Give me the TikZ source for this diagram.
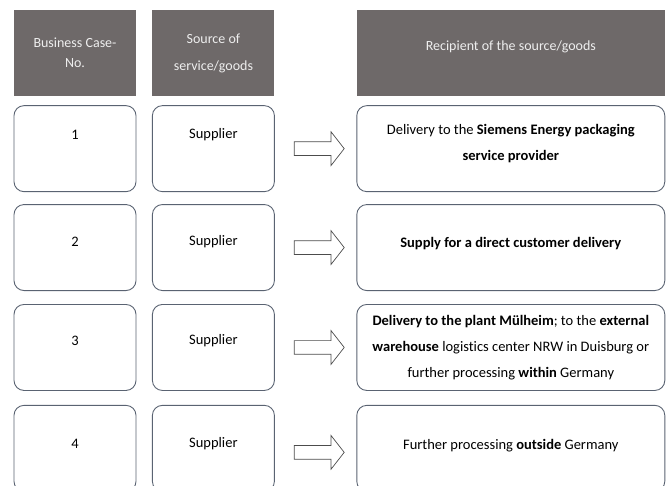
\documentclass[tikz,border=0pt]{standalone}
\usepackage{fontspec}
\setmainfont{Carlito}[Ligatures=NoCommon]
\usepackage{xcolor}
\usetikzlibrary{positioning}
\usetikzlibrary{shapes.arrows}

\definecolor{headgray}{HTML}{6E6969}
\definecolor{headtext}{HTML}{EEEEEE}
\definecolor{framegray}{HTML}{5A6372}

\tikzset{
	head/.style={fill=headgray, text=headtext, minimum height=86pt, inner sep=0pt,
		align=center, font=\fontsize{14}{20}\selectfont},
	cell/.style={draw=framegray, line width=0.9pt, rounded corners=10pt,
		minimum height=86pt, inner sep=0pt},
	txt/.style={align=center, text=black, font=\fontsize{14.5}{26}\selectfont},
	pointer/.style={single arrow, draw=black!70, fill=white, line width=0.7pt,
		inner sep=0pt, text height=6.5pt, text depth=6.5pt, minimum height=50pt,
		single arrow head extend=10pt, single arrow tip angle=104}
}

\begin{document}
\begin{tikzpicture}[x=1pt, y=-1pt, node distance=12pt]
		\useasboundingbox (0,0) rectangle (668,485);
	
		% column heads
		\node[head, minimum width=122pt] (hdCase) at (75,53) {Business Case-\\No.};
		\node[head, minimum width=122pt, right=16pt of hdCase] (hdSource) {Source of\\[7pt]service/goods};
		\node[head, minimum width=308pt, right=82pt of hdSource, label={[headtext, font=\fontsize{14}{20}\selectfont, yshift=6pt]center:Recipient of the source/goods}] (hdRecipient) {};
	
		% row 1
		\node[cell, minimum width=122pt, below=9pt of hdCase, label={[txt, yshift=14pt]center:1}] (case1) {};
		\node[cell, minimum width=122pt, below=9pt of hdSource, label={[txt, yshift=14pt]center:Supplier}] (source1) {};
		\node[cell, minimum width=308pt, below=9pt of hdRecipient, label={[txt, yshift=5pt]center:{Delivery to the \textbf{Siemens Energy packaging}\\\textbf{service provider}}}] (recipient1) {};
		\node[pointer, right=19pt of source1] (arrow1) {};
	
		% row 2
		\node[cell, minimum width=122pt, below=of case1, label={[txt, yshift=6pt]center:2}] (case2) {};
		\node[cell, minimum width=122pt, below=of source1, label={[txt, yshift=6pt]center:Supplier}] (source2) {};
		\node[cell, minimum width=308pt, below=of recipient1, label={[txt, yshift=4pt]center:{\textbf{Supply for a direct customer delivery}}}] (recipient2) {};
		\node[pointer, right=19pt of source2] (arrow2) {};
	
		% row 3
		\node[cell, minimum width=122pt, below=13pt of case2, label={[txt, yshift=7pt]center:3}] (case3) {};
		\node[cell, minimum width=122pt, below=13pt of source2, label={[txt, yshift=7pt]center:Supplier}] (source3) {};
		\node[cell, minimum width=308pt, below=13pt of recipient2, label={[txt]center:{\textbf{Delivery to the plant Mülheim}; to the \textbf{external}\\\textbf{warehouse} logistics center NRW in Duisburg or\\further processing \textbf{within} Germany}}] (recipient3) {};
		\node[pointer, right=19pt of source3] (arrow3) {};
	
		% row 4
		\node[cell, minimum width=122pt, below=14pt of case3, label={[txt, yshift=5pt]center:4}] (case4) {};
		\node[cell, minimum width=122pt, below=14pt of source3, label={[txt, yshift=5pt]center:Supplier}] (source4) {};
		\node[cell, minimum width=308pt, below=14pt of recipient3, label={[txt, yshift=3pt]center:{Further processing \textbf{outside} Germany}}] (recipient4) {};
		\node[pointer, right=19pt of source4, yshift=-4pt] (arrow4) {};
\end{tikzpicture}
\end{document}
